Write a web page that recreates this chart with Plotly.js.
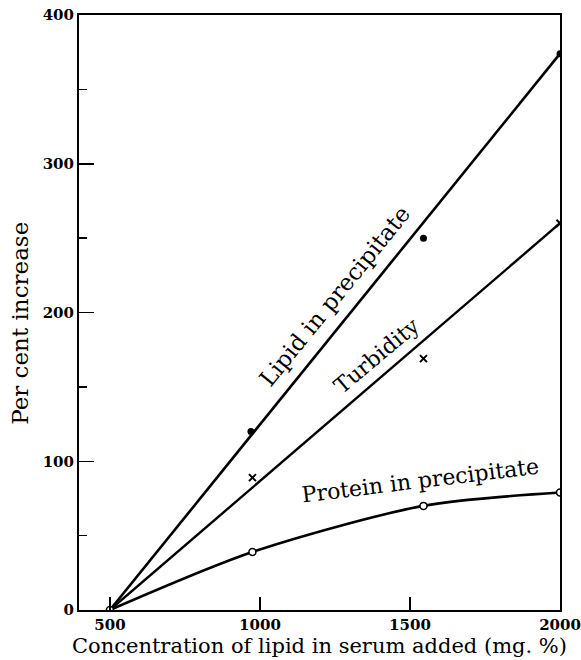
<!DOCTYPE html>
<html><head><meta charset="utf-8">
<script src="https://cdn.plot.ly/plotly-3.0.1.min.js"></script>
<style>html,body{margin:0;padding:0;background:#fff}</style>
</head><body>
<div id="chart" style="width:581px;height:660px"></div>
<script>
// Lipid in precipitate
var lipidX = [500, 970, 1545, 2000];
var lipidY = [0, 120, 250, 374];
var lipidLineX = [500, 2000];
var lipidLineY = [0, 374];
// Turbidity
var turbX = [500, 975, 1545, 2000];
var turbY = [0, 89, 169, 260];
var turbLineX = [500, 2000];
var turbLineY = [0, 260];
// Protein in precipitate
var protX = [500, 975, 1545, 2000];
var protY = [0, 39, 70, 79];

var xTicks = [500, 1000, 1500, 2000];
var yTicks = [0, 100, 200, 300, 400];

var fam = "DejaVu Serif";
var tickFont = {family: fam, size: 15, weight: 'bold', color: '#000'};
var traces = [
  {x: lipidLineX, y: lipidLineY, mode: 'lines', line: {color: '#000', width: 2.6}, hoverinfo: 'skip'},
  {x: lipidX.slice(1), y: lipidY.slice(1), mode: 'markers', marker: {symbol: 'circle', size: 7, color: '#000'}},
  {x: turbLineX, y: turbLineY, mode: 'lines', line: {color: '#000', width: 2.4}, hoverinfo: 'skip'},
  {x: turbX.slice(1), y: turbY.slice(1), mode: 'markers', marker: {symbol: 'x-thin', size: 7, color: '#000', line: {color: '#000', width: 2}}},
  {x: protX, y: protY, mode: 'lines+markers', line: {color: '#000', width: 2.6, shape: 'spline', smoothing: 0.8},
   marker: {symbol: 'circle', size: 7, color: '#fff', line: {color: '#000', width: 1.5}}}
];

var layout = {
  width: 581, height: 660,
  margin: {l: 79, r: 21, t: 15, b: 50},
  paper_bgcolor: '#fff', plot_bgcolor: '#fff',
  showlegend: false,
  font: {family: fam, color: '#000'},
  xaxis: {
    range: [397, 2000], showgrid: false, zeroline: false,
    showline: true, linecolor: '#000', linewidth: 2, mirror: true,
    ticks: 'inside', ticklen: 13, tickwidth: 1.5, tickcolor: '#000',
    tickvals: xTicks, ticktext: xTicks.map(String),
    tickfont: tickFont,
    title: {text: 'Concentration of lipid in serum added (mg. %)', font: {family: fam, size: 21}, standoff: 1}
  },
  yaxis: {
    range: [0, 400], showgrid: false, zeroline: false,
    showline: true, linecolor: '#000', linewidth: 2, mirror: true,
    ticks: 'inside', ticklen: 15, tickwidth: 1.5, tickcolor: '#000',
    tickvals: yTicks, ticktext: yTicks.map(String),
    tickfont: tickFont,
    minor: {dtick: 50, ticks: 'inside', ticklen: 8, tickwidth: 1.5, tickcolor: '#000', showgrid: false}
  },
  annotations: [
    {text: 'Per cent increase', x: -0.123, y: 193, xref: 'paper', yref: 'y', xanchor: 'center', yanchor: 'middle', showarrow: false, textangle: -90, font: {family: fam, size: 23}},
    {text: 'Lipid in precipitate', x: 1250, y: 211, xref: 'x', yref: 'y', showarrow: false, textangle: -51, font: {family: fam, size: 23}},
    {text: 'Turbidity', x: 1390, y: 171, xref: 'x', yref: 'y', showarrow: false, textangle: -40, font: {family: fam, size: 22}},
    {text: 'Protein in precipitate', x: 1535, y: 87, xref: 'x', yref: 'y', showarrow: false, textangle: -7, font: {family: fam, size: 22}}
  ]
};
Plotly.newPlot('chart', traces, layout, {displayModeBar: false, staticPlot: true});
</script>
</body></html>
